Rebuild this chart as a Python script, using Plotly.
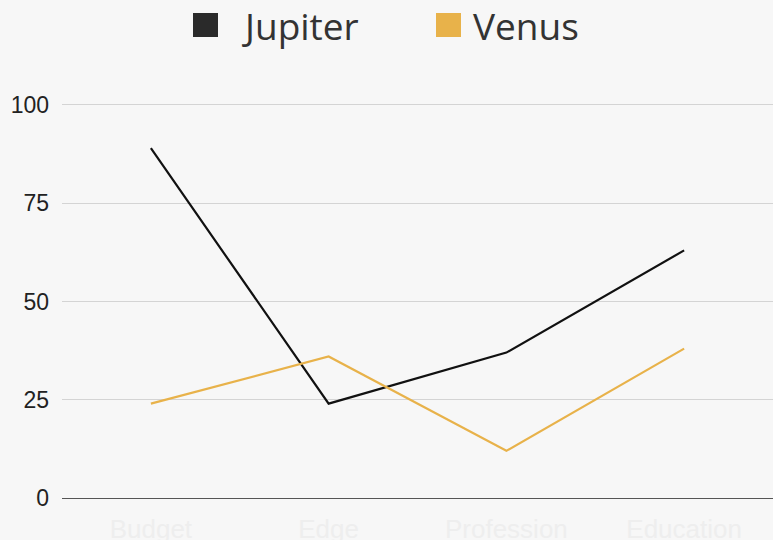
import plotly.graph_objects as go

categories = ["Budget", "Edge", "Profession", "Education"]
jupiter = [89, 24, 37, 63]
venus = [24, 36, 12, 38]
y_ticks = [0, 25, 50, 75, 100]

series_names = ["Jupiter", "Venus"]
series_colors = ["#111111", "#e8b24a"]

fig = go.Figure()
for name, vals, col in zip(series_names, [jupiter, venus], series_colors):
    fig.add_trace(go.Scatter(x=categories, y=vals, mode="lines", name=name,
                             line=dict(color=col, width=2.2), showlegend=False))

# manual legend (large squares)
W, H = 773, 540
ml, mr, mt, mb = 62, 0, 103, 42
pw, ph = W - ml - mr, H - mt - mb
def px_x(p):
    return (p - ml) / pw
def px_y(p):
    return (H - mb - p) / ph

legend_items = [("Jupiter", "#2a2a2a", 193, 240), ("Venus", "#e8b24a", 436, 471)]
for label, col, sx, tx in legend_items:
    fig.add_shape(type="rect", xref="paper", yref="paper",
                  x0=px_x(sx), x1=px_x(sx + 25), y0=px_y(37), y1=px_y(13),
                  fillcolor=col, line=dict(width=0))
    fig.add_annotation(xref="paper", yref="paper", x=px_x(tx), y=px_y(25),
                       xanchor="left", yanchor="middle", showarrow=False,
                       text=label, font=dict(family="Open Sans", size=37, color="#333333"))

fig.update_layout(
    width=W, height=H,
    margin=dict(l=ml, r=mr, t=mt, b=mb, autoexpand=False),
    paper_bgcolor="#f7f7f7", plot_bgcolor="#f7f7f7",
    showlegend=False,
    xaxis=dict(type="category", range=[-0.5, 3.5], showgrid=False, zeroline=False,
               showline=False, ticks="outside", ticklen=8, tickcolor="rgba(0,0,0,0)",
               automargin=False,
               tickfont=dict(family="Liberation Sans", size=26, color="#eeeeee")),
    yaxis=dict(range=[0, 100.5], tickvals=y_ticks, showgrid=True, gridcolor="#d4d4d4",
               gridwidth=1, zeroline=True, zerolinecolor="#555555", zerolinewidth=1,
               showline=False, ticks="", ticklabelstandoff=12, automargin=False,
               tickfont=dict(family="Liberation Sans", size=23, color="#222222")),
)

fig.write_html("out.html", config={"displayModeBar": False},
               post_script="document.body.style.margin='0';document.body.style.background='#f7f7f7';")
